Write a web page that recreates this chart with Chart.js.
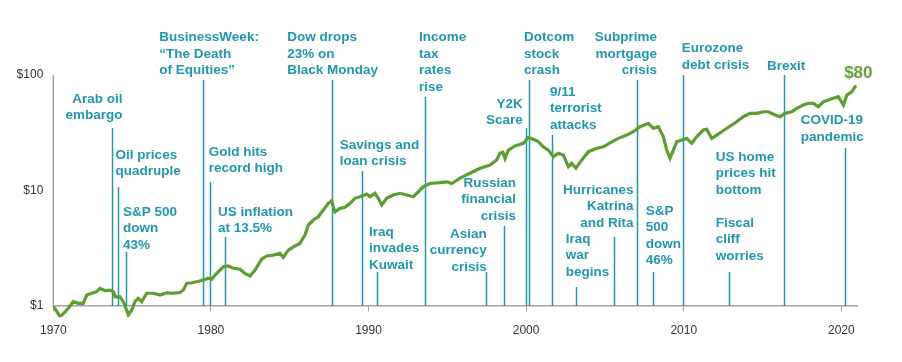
<!DOCTYPE html>
<html>
<head>
<meta charset="utf-8">
<script src="https://cdn.jsdelivr.net/npm/chart.js@4/dist/chart.umd.min.js"></script>
<style>
  html, body { margin: 0; padding: 0; background: #fff; }
  #wrap { width: 902px; height: 362px; position: relative; }
</style>
</head>
<body>
<div id="wrap"><canvas id="chart"></canvas></div>
<script>
// Growth of $1 (year, dollars)
const years = [
  1970.00, 1970.17, 1970.43, 1970.75, 1970.95, 1971.27, 1971.59, 1971.90, 1972.12, 1972.44,
  1972.75, 1972.96, 1973.28, 1973.60, 1973.81, 1973.92, 1974.23, 1974.44, 1974.66, 1974.76,
  1974.97, 1975.18, 1975.39, 1975.61, 1975.93, 1976.35, 1976.77, 1977.20, 1977.61, 1978.04,
  1978.25, 1978.46, 1978.78, 1979.10, 1979.52, 1979.83, 1980.05, 1980.26, 1980.47, 1980.79,
  1981.10, 1981.42, 1981.85, 1982.16, 1982.48, 1982.80, 1983.22, 1983.54, 1983.96, 1984.38,
  1984.59, 1984.91, 1985.34, 1985.65, 1985.97, 1986.18, 1986.50, 1986.81, 1987.13, 1987.45,
  1987.66, 1987.77, 1987.87, 1988.19, 1988.51, 1988.83, 1989.14, 1989.46, 1989.89, 1990.10,
  1990.41, 1990.62, 1990.84, 1991.15, 1991.57, 1992.00, 1992.42, 1992.84, 1993.16, 1993.48,
  1993.90, 1994.54, 1994.96, 1995.28, 1995.81, 1996.44, 1997.08, 1997.71, 1998.13, 1998.34,
  1998.53, 1998.66, 1998.87, 1999.30, 1999.82, 2000.14, 2000.46, 2000.77, 2001.09, 2001.41,
  2001.73, 2002.04, 2002.36, 2002.68, 2002.89, 2003.16, 2003.53, 2003.95, 2004.48, 2004.90,
  2005.32, 2005.85, 2006.38, 2006.80, 2007.23, 2007.75, 2008.07, 2008.39, 2008.71, 2008.92,
  2009.13, 2009.34, 2009.56, 2009.87, 2010.19, 2010.51, 2010.82, 2011.24, 2011.46, 2011.78,
  2012.09, 2012.41, 2012.73, 2013.05, 2013.36, 2013.78, 2014.21, 2014.63, 2015.05, 2015.37,
  2015.79, 2016.11, 2016.43, 2016.85, 2017.17, 2017.59, 2017.91, 2018.22, 2018.54, 2018.86,
  2019.18, 2019.49, 2019.81, 2020.13, 2020.35, 2020.67, 2020.87, 2020.97
];
const values = [
  0.99, 0.92, 0.81, 0.89, 0.955, 1.09, 1.055, 1.055, 1.245, 1.29,
  1.33, 1.42, 1.36, 1.375, 1.33, 1.20, 1.20, 1.09, 0.92, 0.836,
  0.92, 1.09, 1.166, 1.09, 1.29, 1.29, 1.245, 1.30, 1.29, 1.31,
  1.375, 1.57, 1.59, 1.62, 1.68, 1.74, 1.70, 1.855, 1.98, 2.19,
  2.22, 2.12, 2.08, 1.92, 1.82, 2.05, 2.54, 2.71, 2.76, 2.86,
  2.64, 3.05, 3.31, 3.49, 4.12, 5.03, 5.55, 5.93, 6.78, 7.75,
  8.16, 7.24, 6.55, 7.01, 7.15, 7.75, 8.56, 8.84, 9.33, 8.84,
  9.46, 8.56, 7.49, 8.56, 9.14, 9.46, 9.14, 8.84, 9.76, 10.8,
  11.5, 11.7, 11.9, 11.5, 12.8, 14.1, 15.6, 16.6, 18.4, 21.1,
  21.5, 19.0, 22.4, 24.3, 25.6, 28.9, 27.8, 26.5, 23.9, 22.4,
  19.6, 21.0, 20.3, 16.1, 17.2, 15.6, 18.4, 21.7, 23.2, 23.9,
  25.9, 28.3, 30.2, 32.3, 35.7, 38.2, 34.6, 35.7, 29.2, 22.4,
  19.0, 22.4, 26.5, 27.4, 28.3, 25.6, 29.2, 33.4, 33.9, 28.3,
  30.2, 32.3, 34.6, 36.9, 39.4, 43.6, 46.6, 46.6, 48.1, 48.1,
  45.1, 43.6, 46.6, 48.1, 51.5, 55.0, 56.9, 56.9, 53.2, 58.7,
  60.7, 62.8, 64.9, 55.0, 67.1, 71.7, 79.2, 80
];
const endLabel = '$80';

const xTicks = [1970, 1980, 1990, 2000, 2010, 2020];
const yTicks = [1, 10, 100];

// Events: when they happened and what the callout says
const eventYears = [
  1973.75, 1974.10, 1974.63, 1979.52, 1979.96, 1980.90, 1987.70, 1989.57,
  1990.56, 1993.57, 1997.46, 1998.60, 1999.99, 2000.16, 2001.64, 2003.15,
  2005.58, 2007.05, 2008.03, 2009.97, 2012.00, 2012.87, 2016.39, 2020.23
];
const eventLabels = [
  ['Arab oil', 'embargo'],
  ['Oil prices', 'quadruple'],
  ['S&P 500', 'down', '43%'],
  ['BusinessWeek:', '\u201CThe Death', 'of Equities\u201D'],
  ['Gold hits', 'record high'],
  ['US inflation', 'at 13.5%'],
  ['Dow drops', '23% on', 'Black Monday'],
  ['Savings and', 'loan crisis'],
  ['Iraq', 'invades', 'Kuwait'],
  ['Income', 'tax', 'rates', 'rise'],
  ['Asian', 'currency', 'crisis'],
  ['Russian', 'financial', 'crisis'],
  ['Y2K', 'Scare'],
  ['Dotcom', 'stock', 'crash'],
  ['9/11', 'terrorist', 'attacks'],
  ['Iraq', 'war', 'begins'],
  ['Hurricanes', 'Katrina', 'and Rita'],
  ['Subprime', 'mortgage', 'crisis'],
  ['S&P', '500', 'down', '46%'],
  ['Eurozone', 'debt crisis'],
  ['US home', 'prices hit', 'bottom'],
  ['Fiscal', 'cliff', 'worries'],
  ['Brexit'],
  ['COVID-19', 'pandemic']
];

// Callout placement: [text align, x offset from the event line, first line centre y, line top y (null = no line)]
const eventLayout = [
  ['right', 10, 99, 128],
  ['left', -2.3, 155, 187],
  ['left', -3.3, 212, 252],
  ['left', -44, 37.7, 80],
  ['left', -1.6, 152, 182],
  ['left', -7, 212, 237],
  ['left', -45, 37.7, 80],
  ['left', -22, 145, 171],
  ['left', -8.3, 232, 272],
  ['left', -5.7, 37.7, 97],
  ['right', 0.7, 234, 272],
  ['right', 12, 183, 226],
  ['right', -3.3, 104, 128],
  ['left', -4.7, 37.7, 80],
  ['left', -2, 92, 135],
  ['left', -10, 239, 287],
  ['right', 19.5, 190, 237],
  ['right', 19.7, 37.7, 80],
  ['left', -7, 211, 272],
  ['left', -1.6, 48.3, 75],
  ['left', 0.5, 157, null],
  ['left', -13.3, 223, 272],
  ['center', 1.7, 66.7, 75],
  ['left', -44.3, 120.7, 148]
];

const TEAL = '#2196b0';
const GREEN = '#5a9f30';
const AXIS = '#a3a3a3';
const FONT = '"Liberation Sans", Arial, sans-serif';

const eventsPlugin = {
  id: 'events',
  beforeDatasetsDraw(chart) {
    const { ctx, scales: { x, y } } = chart;
    ctx.save();
    // y axis line only spans $1..$100
    ctx.strokeStyle = AXIS;
    ctx.lineWidth = 1.5;
    ctx.beginPath();
    ctx.moveTo(chart.chartArea.left, y.getPixelForValue(yTicks[yTicks.length - 1]));
    ctx.lineTo(chart.chartArea.left, y.getPixelForValue(yTicks[0]) + 2);
    ctx.stroke();

    ctx.strokeStyle = TEAL;
    ctx.lineWidth = 1.5;
    eventYears.forEach((yr, i) => {
      const top = eventLayout[i][3];
      if (top === null) return;
      const px = Math.round(x.getPixelForValue(yr)) + 0.5;
      ctx.beginPath();
      ctx.moveTo(px, top);
      ctx.lineTo(px, y.getPixelForValue(1));
      ctx.stroke();
    });
    ctx.restore();
  },
  afterDatasetsDraw(chart) {
    const { ctx, scales: { x, y } } = chart;
    ctx.save();
    ctx.fillStyle = TEAL;
    ctx.font = 'bold 13.5px ' + FONT;
    ctx.textBaseline = 'middle';
    eventYears.forEach((yr, i) => {
      const [align, dx, y0] = eventLayout[i];
      ctx.textAlign = align;
      const px = x.getPixelForValue(yr) + dx;
      eventLabels[i].forEach((line, j) => {
        ctx.fillText(line, px, y0 + j * 16.5);
      });
    });

    // end value callout
    const lastX = x.getPixelForValue(years[years.length - 1]);
    const lastY = y.getPixelForValue(values[values.length - 1]);
    ctx.fillStyle = '#62a336';
    ctx.font = 'bold 17px ' + FONT;
    ctx.textAlign = 'left';
    ctx.fillText(endLabel, lastX - 12.5, lastY - 13);
    ctx.restore();
  }
};

const ctx = document.getElementById('chart').getContext('2d');
new Chart(ctx, {
  type: 'line',
  data: {
    datasets: [{
      data: years.map((yr, i) => ({ x: yr, y: values[i] })),
      borderColor: GREEN,
      borderWidth: 3.2,
      pointRadius: 0,
      tension: 0,
      fill: false
    }]
  },
  options: {
    responsive: true,
    maintainAspectRatio: false,
    animation: false,
    devicePixelRatio: 1,
    layout: { padding: { left: 0, right: 44.9, top: 5.5, bottom: 44.8 } },
    plugins: { legend: { display: false }, tooltip: { enabled: false } },
    scales: {
      x: {
        type: 'linear',
        position: { y: 1 },
        min: 1970,
        max: 2021,
        afterBuildTicks: s => { s.ticks = xTicks.map(v => ({ value: v })); },
        afterFit: s => { s.paddingLeft = 0; s.paddingRight = 0; },
        ticks: {
          callback: v => String(v),
          color: '#333',
          font: { family: FONT, size: 12 },
          padding: 12,
          maxRotation: 0
        },
        grid: { display: true, drawOnChartArea: false, drawTicks: true, tickLength: 5, color: AXIS, tickWidth: 1 },
        border: { display: true, color: AXIS, width: 1.5 }
      },
      y: {
        type: 'logarithmic',
        position: 'left',
        min: 0.8,
        max: 400,
        afterBuildTicks: s => { s.ticks = yTicks.map(v => ({ value: v })); },
        afterFit: s => { s.width = 53.3; s.paddingTop = 0; s.paddingBottom = 0; },
        ticks: {
          callback: v => '$' + v,
          color: '#333',
          font: { family: FONT, size: 12 },
          padding: 2
        },
        grid: { display: false },
        border: { display: false }
      }
    }
  },
  plugins: [eventsPlugin]
});
</script>
</body>
</html>
